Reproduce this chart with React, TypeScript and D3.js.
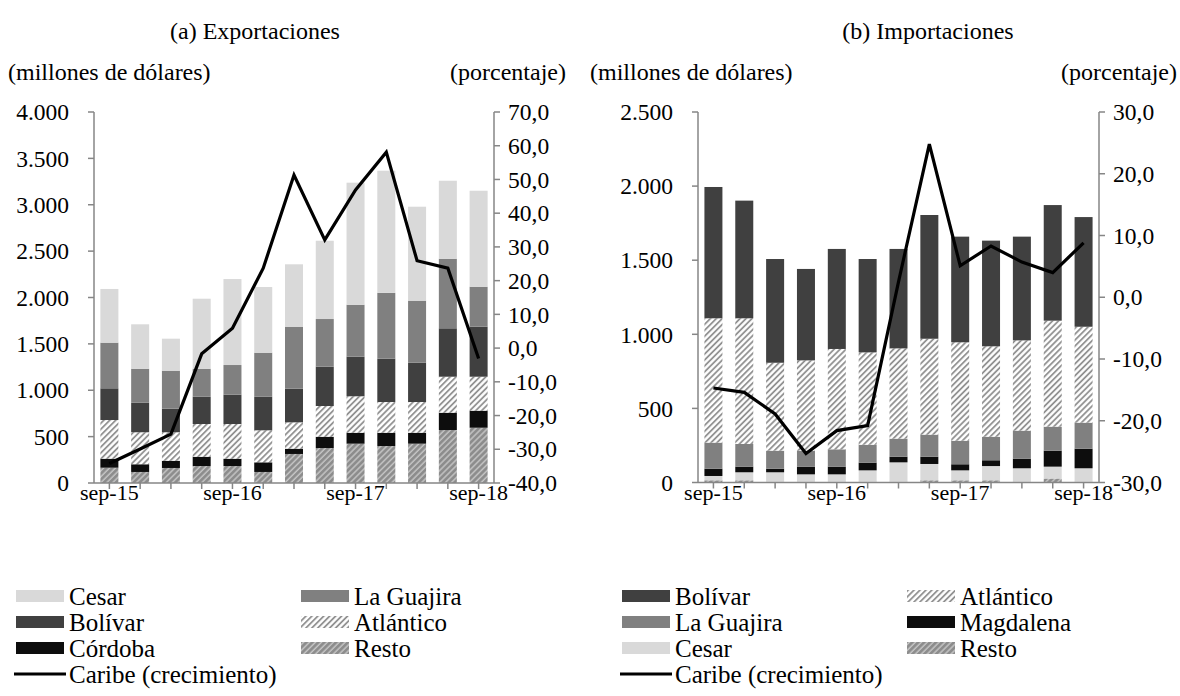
import React from "react";
import * as d3 from "d3";

const categories = ["sep-15","dic-15","mar-16","jun-16","sep-16","dic-16","mar-17","jun-17","sep-17","dic-17","mar-18","jun-18","sep-18"];
const shownTicks = ["sep-15","sep-16","sep-17","sep-18"];

// (a) Exportaciones, millones de dólares
const expResto = [165,119,162,183,183,119,313,377,424,399,424,571,596];
const expCordoba = [97,83,78,100,79,104,57,122,118,143,118,187,184];
const expAtlantico = [417,345,307,353,374,345,284,331,393,331,331,388,366];
const expBolivar = [342,319,254,294,316,362,363,424,427,467,424,522,539];
const expGuajira = [492,366,410,302,320,475,668,514,560,710,669,750,431];
const expCesar = [579,479,345,755,927,708,673,844,1316,1317,1013,841,1035];
const expGrowth = [-34.2,-29.9,-25.5,-1.7,5.9,23.7,51.3,32.1,46.9,58.1,25.9,23.7,-3.1];

// (b) Importaciones, millones de dólares
const impResto = [15,15,4,4,4,4,4,15,15,15,4,27,4];
const impCesar = [29,54,65,51,51,78,132,110,67,96,92,80,92];
const impMagdalena = [49,38,24,52,52,52,38,49,41,39,65,108,132];
const impGuajira = [176,153,122,108,117,121,122,149,159,159,189,162,176];
const impAtlantico = [839,848,593,609,677,623,609,647,664,610,609,715,647];
const impBolivar = [886,794,700,617,675,630,671,835,713,713,700,780,740];
const impGrowth = [-14.7,-15.4,-18.9,-25.3,-21.6,-20.8,2.5,24.8,5.1,8.3,5.7,4.0,8.8];

const expLeftTicks = d3.range(0, 4001, 500);
const expRightTicks = d3.range(-40, 71, 10);
const impLeftTicks = d3.range(0, 2501, 500);
const impRightTicks = d3.range(-30, 31, 10);

const FONT = "'Liberation Serif', 'Times New Roman', serif";
const FS_TICK = 23.5;
const FS_X = 22;
const FS_UNITS = 24;
const FS_TITLE = 24;
const FS_LEG = 25;
const AXIS = "#868686";

const loc = d3.formatLocale({ decimal: ",", thousands: ".", grouping: [3], currency: ["", ""], minus: "-" });
const fmtThousands = loc.format(",");
const fmtPct = loc.format(".1f");

const FILLS: Record<string, string> = {
  Cesar: "#d9d9d9",
  "La Guajira": "#808080",
  "Bolívar": "#404040",
  "Atlántico": "url(#patAtl)",
  "Córdoba": "#0d0d0d",
  Magdalena: "#0d0d0d",
  Resto: "url(#patResto)",
};

type Panel = {
  id: string;
  title: string;
  titleX: number;
  unitsX: number;
  pctRight: number;
  x0: number;
  x1: number;
  yTop: number;
  yBot: number;
  leftMax: number;
  rightMin: number;
  rightMax: number;
  leftTicks: number[];
  rightTicks: number[];
  keys: string[];
  series: Record<string, number[]>;
  growth: number[];
  legendX: number[];
  legendRows: (string | null)[][];
};

const panels: Panel[] = [
  {
    id: "exp",
    title: "(a) Exportaciones",
    titleX: 255,
    unitsX: 8,
    pctRight: 566,
    x0: 94,
    x1: 494,
    yTop: 112,
    yBot: 483,
    leftMax: 4000,
    rightMin: -40,
    rightMax: 70,
    leftTicks: expLeftTicks,
    rightTicks: expRightTicks,
    keys: ["Resto", "Córdoba", "Atlántico", "Bolívar", "La Guajira", "Cesar"],
    series: {
      Resto: expResto,
      "Córdoba": expCordoba,
      "Atlántico": expAtlantico,
      "Bolívar": expBolivar,
      "La Guajira": expGuajira,
      Cesar: expCesar,
    },
    growth: expGrowth,
    legendX: [16, 301],
    legendRows: [["Cesar", "La Guajira"], ["Bolívar", "Atlántico"], ["Córdoba", "Resto"]],
  },
  {
    id: "imp",
    title: "(b) Importaciones",
    titleX: 928,
    unitsX: 590,
    pctRight: 1177,
    x0: 698,
    x1: 1099,
    yTop: 112,
    yBot: 482.5,
    leftMax: 2500,
    rightMin: -30,
    rightMax: 30,
    leftTicks: impLeftTicks,
    rightTicks: impRightTicks,
    keys: ["Resto", "Cesar", "Magdalena", "La Guajira", "Atlántico", "Bolívar"],
    series: {
      Resto: impResto,
      Cesar: impCesar,
      Magdalena: impMagdalena,
      "La Guajira": impGuajira,
      "Atlántico": impAtlantico,
      "Bolívar": impBolivar,
    },
    growth: impGrowth,
    legendX: [622, 907],
    legendRows: [["Bolívar", "Atlántico"], ["La Guajira", "Magdalena"], ["Cesar", "Resto"]],
  },
];

const LEGEND_Y = [596, 622, 648, 674];

function PanelView({ p }: { p: Panel }) {
  const x = d3.scaleBand<string>().domain(categories).range([p.x0, p.x1]).paddingInner(0).paddingOuter(0);
  const yL = d3.scaleLinear().domain([0, p.leftMax]).range([p.yBot, p.yTop]);
  const yR = d3.scaleLinear().domain([p.rightMin, p.rightMax]).range([p.yBot, p.yTop]);
  const rows = categories.map((c, i) => {
    const r: Record<string, number | string> = { cat: c };
    p.keys.forEach((k) => (r[k] = p.series[k][i]));
    return r;
  });
  const stacked = d3.stack<Record<string, number | string>>().keys(p.keys)(rows as any);
  const barW = 18;
  const cx = (c: string) => (x(c) as number) + x.bandwidth() / 2;
  const line = d3
    .line<number>()
    .x((_, i) => cx(categories[i]))
    .y((d) => yR(d))
    .curve(d3.curveLinear);

  return (
    <g>
      <text x={p.titleX} y={39} textAnchor="middle" fontSize={FS_TITLE} fontFamily={FONT}>{p.title}</text>
      <text x={p.unitsX} y={80} fontSize={FS_UNITS} fontFamily={FONT}>(millones de dólares)</text>
      <text x={p.pctRight} y={80} textAnchor="end" fontSize={FS_UNITS} fontFamily={FONT}>(porcentaje)</text>

      {stacked.map((s) => (
        <g key={s.key}>
          {s.map((d, i) => (
            <rect
              key={i}
              x={cx(categories[i]) - barW / 2}
              width={barW}
              y={yL(d[1])}
              height={Math.max(0, yL(d[0]) - yL(d[1]))}
              fill={FILLS[s.key]}
            />
          ))}
        </g>
      ))}

      {/* left axis */}
      <line x1={p.x0} x2={p.x0} y1={p.yTop} y2={p.yBot} stroke={AXIS} strokeWidth={1.5} />
      {p.leftTicks.map((t) => (
        <g key={"l" + t}>
          <line x1={p.x0 - 6} x2={p.x0} y1={yL(t)} y2={yL(t)} stroke={AXIS} strokeWidth={1.5} />
          <text x={p.x0 - 25} y={yL(t)} dy="0.35em" textAnchor="end" fontSize={FS_TICK} fontFamily={FONT}>{fmtThousands(t)}</text>
        </g>
      ))}
      {/* right axis */}
      <line x1={p.x1} x2={p.x1} y1={p.yTop} y2={p.yBot} stroke={AXIS} strokeWidth={1.5} />
      {p.rightTicks.map((t) => (
        <g key={"r" + t}>
          <line x1={p.x1} x2={p.x1 + 6} y1={yR(t)} y2={yR(t)} stroke={AXIS} strokeWidth={1.5} />
          <text x={p.x1 + 14} y={yR(t)} dy="0.35em" fontSize={FS_TICK} fontFamily={FONT}>{fmtPct(t)}</text>
        </g>
      ))}
      {/* bottom axis */}
      <line x1={p.x0} x2={p.x1} y1={p.yBot} y2={p.yBot} stroke={AXIS} strokeWidth={1.5} />
      {categories.map((c) => (
        <line key={"t" + c} x1={cx(c)} x2={cx(c)} y1={p.yBot} y2={p.yBot + 6} stroke={AXIS} strokeWidth={1.5} />
      ))}
      {shownTicks.map((c) => (
        <text key={"xl" + c} x={cx(c)} y={500} textAnchor="middle" fontSize={FS_X} fontFamily={FONT}>{c}</text>
      ))}

      <path d={line(p.growth) || ""} fill="none" stroke="#000" strokeWidth={3.2} strokeLinejoin="miter" />

      {/* legend */}
      {p.legendRows.map((row, ri) =>
        row.map((k, ci) =>
          k ? (
            <g key={"lg" + k}>
              <rect x={p.legendX[ci]} y={LEGEND_Y[ri] - 6} width={48} height={12} fill={FILLS[k]} />
              <text x={p.legendX[ci] + 53} y={LEGEND_Y[ri]} dy="0.35em" fontSize={FS_LEG} fontFamily={FONT}>{k}</text>
            </g>
          ) : null
        )
      )}
      <line x1={p.legendX[0] - 2} x2={p.legendX[0] + 50} y1={LEGEND_Y[3]} y2={LEGEND_Y[3]} stroke="#000" strokeWidth={3} />
      <text x={p.legendX[0] + 53} y={LEGEND_Y[3]} dy="0.35em" fontSize={FS_LEG} fontFamily={FONT}>Caribe (crecimiento)</text>
    </g>
  );
}

export default function App() {
  return (
    <svg width={1180} height={696} style={{ position: "absolute", left: 0, top: 0, background: "#fff" }}>
      <defs>
        <pattern id="patAtl" patternUnits="userSpaceOnUse" width={4.2} height={4.2} patternTransform="rotate(45)">
          <rect width={4.2} height={4.2} fill="#ffffff" />
          <line x1={1} x2={1} y1={0} y2={4.2} stroke="#8a8a8a" strokeWidth={1.7} />
        </pattern>
        <pattern id="patResto" patternUnits="userSpaceOnUse" width={4.2} height={4.2} patternTransform="rotate(45)">
          <rect width={4.2} height={4.2} fill="#8c8c8c" />
          <line x1={1} x2={1} y1={0} y2={4.2} stroke="#c4c4c4" strokeWidth={1.5} />
        </pattern>
      </defs>
      <rect width={1180} height={696} fill="#fff" />
      {panels.map((p) => (
        <PanelView key={p.id} p={p} />
      ))}
    </svg>
  );
}
